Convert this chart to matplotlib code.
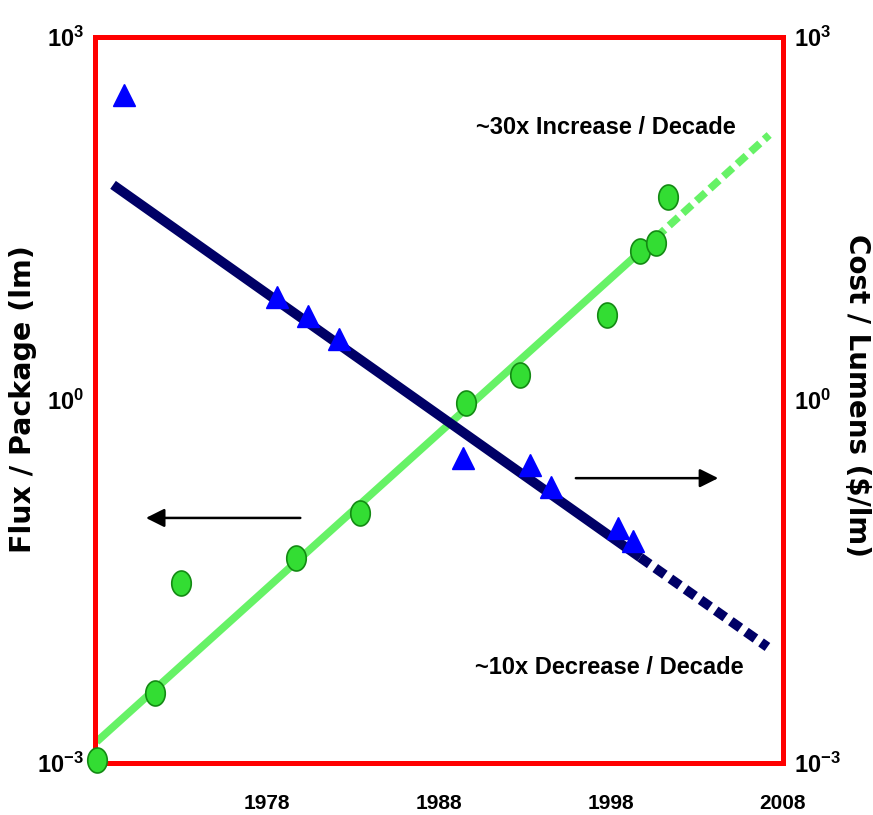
import numpy as np
import matplotlib
matplotlib.use("Agg")
import matplotlib.pyplot as plt
from matplotlib.path import Path

plt.rcParams['mathtext.fontset'] = 'custom'
plt.rcParams['mathtext.rm'] = 'Liberation Sans:bold'
plt.rcParams['mathtext.bf'] = 'Liberation Sans:bold'

NARROW = ['Liberation Sans Narrow', 'Liberation Sans', 'DejaVu Sans']

# Flux / Package (lm) - green points
flux_years = [1968.1, 1971.5, 1973.0, 1979.7, 1983.4, 1989.6, 1992.7, 1997.8, 1999.7, 2000.6, 2001.3]
flux_values = [1.05e-3, 3.8e-3, 0.031, 0.049, 0.117, 0.95, 1.62, 5.0, 17.0, 20.0, 48.0]

# Cost / Lumens ($/lm) - blue triangles
cost_years = [1969.7, 1978.6, 1980.4, 1982.2, 1989.4, 1993.3, 1994.5, 1998.4, 1999.3]
cost_values = [330.0, 7.1, 4.9, 3.2, 0.33, 0.29, 0.19, 0.087, 0.069]

# trend lines (solid part, then dashed projection)
flux_trend_years = [1968.1, 2000.6, 2007.2]
flux_trend_values = [1.5e-3, 21.9, 155.0]
cost_trend_years = [1969.05, 1999.7, 2007.1]
cost_trend_values = [60.0, 0.050, 0.0091]

year_ticks = [1978, 1988, 1998, 2008]
y_ticks = [1e-3, 1e0, 1e3]
y_tick_labels = [r'$\mathbf{10^{-3}}$', r'$\mathbf{10^{0}}$', r'$\mathbf{10^{3}}$']

# ellipse marker for the green "beads"
t = np.linspace(0, 2 * np.pi, 60)
ellipse = Path(np.column_stack([0.78 * np.cos(t), np.sin(t)]))

fig = plt.figure(figsize=(8.73, 8.15), dpi=100)
ax = fig.add_axes([0.1088, 0.0638, 0.788, 0.8908])
ax.set_yscale('log')
ax.set_xlim(1968, 2008)
ax.set_ylim(1e-3, 1e3)

# green trend
ax.plot(flux_trend_years[:2], flux_trend_values[:2], color='#66f266', lw=5.5,
        solid_capstyle='butt', zorder=2)
ax.plot(flux_trend_years[1:], flux_trend_values[1:], color='#66f266', lw=5.5,
        linestyle=(0, (1.6, 0.8)), zorder=2)
# navy trend
ax.plot(cost_trend_years[:2], cost_trend_values[:2], color='#000066', lw=7,
        solid_capstyle='butt', zorder=3)
ax.plot(cost_trend_years[1:], cost_trend_values[1:], color='#000066', lw=7,
        linestyle=(0, (1.2, 0.7)), zorder=3)

ax.plot(flux_years, flux_values, linestyle='none', marker=ellipse, markersize=18,
        markerfacecolor='#33dd33', markeredgecolor='#138a13', markeredgewidth=1.2,
        zorder=5, clip_on=False)
ax.plot(cost_years, cost_values, linestyle='none', marker='^', markersize=16,
        color='#0000ff', zorder=6, clip_on=False)

# arrows
ax.annotate('', xy=(1970.8, 0.106), xytext=(1980.1, 0.106),
            arrowprops=dict(arrowstyle='-|>', color='black', lw=1.8, mutation_scale=28))
ax.annotate('', xy=(2004.4, 0.226), xytext=(1995.8, 0.226),
            arrowprops=dict(arrowstyle='-|>', color='black', lw=1.8, mutation_scale=28))

ax.text(1997.7, 180, '~30x Increase / Decade', ha='center', va='center',
        fontsize=17, fontweight='bold', family=NARROW)
ax.text(1997.9, 0.0062, '~10x Decrease / Decade', ha='center', va='center',
        fontsize=17, fontweight='bold', family=NARROW)

for s in ax.spines.values():
    s.set_color('#ff0000')
    s.set_linewidth(3.6)

ax.set_xticks(year_ticks)
ax.set_xticklabels([str(y) for y in year_ticks], fontsize=15, fontweight='bold', family=NARROW)
ax.minorticks_off()
ax.set_yticks(y_ticks)
ax.set_yticklabels(y_tick_labels, fontsize=17)
ax.tick_params(axis='x', length=0, pad=22)
ax.tick_params(axis='y', length=0, which='both')
ax.tick_params(axis='y', which='major', pad=6, labelright=True)
ax.yaxis.set_minor_locator(matplotlib.ticker.NullLocator())
for tk in ax.yaxis.get_major_ticks():
    tk.label2.set_horizontalalignment('left')
    tk.set_pad(8)

fig.text(0.026, 0.51, 'Flux / Package (lm)', rotation=90, ha='center', va='center',
         fontsize=20.5, fontweight='bold', family='DejaVu Sans')
fig.text(0.982, 0.515, 'Cost / Lumens ($/lm)', rotation=270, ha='center', va='center',
         fontsize=20, fontweight='bold', family='DejaVu Sans')

fig.savefig('out.png', dpi=100, facecolor='white')
